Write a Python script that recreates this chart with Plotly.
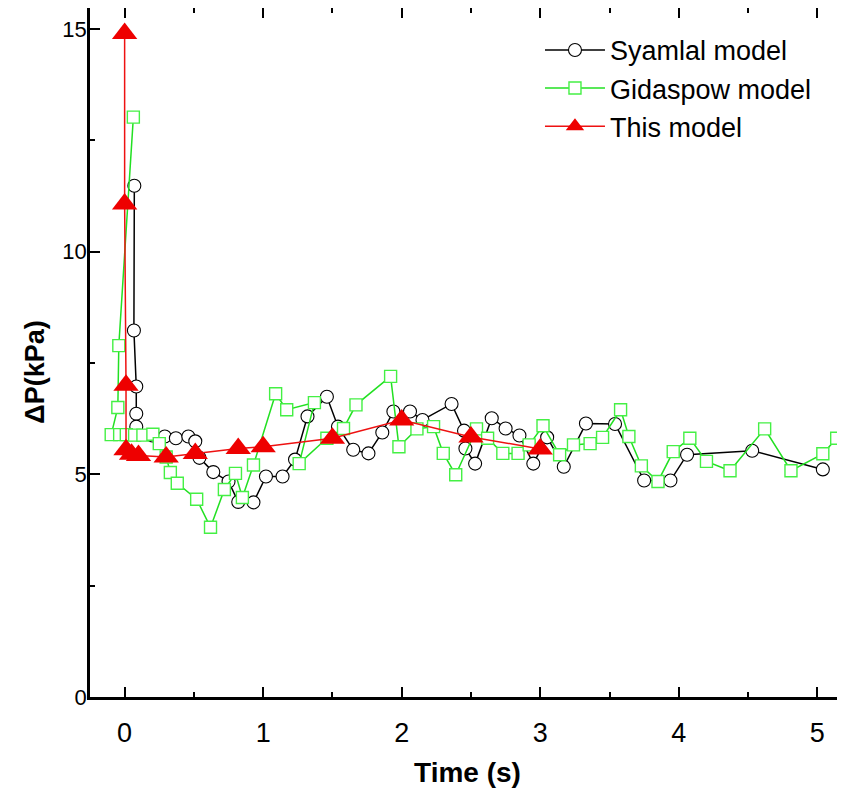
import plotly.graph_objects as go

# Syamlal model (black, open circles)
syamlal_t = [0.07, 0.067, 0.084, 0.084, 0.084, 0.2, 0.29, 0.37, 0.46, 0.51, 0.54, 0.64, 0.75,
             0.82, 0.93, 1.02, 1.14, 1.23, 1.32, 1.46, 1.54, 1.65, 1.76, 1.86, 1.94, 2.06,
             2.15, 2.36, 2.45, 2.46, 2.53, 2.65, 2.75, 2.85, 2.95, 3.05, 3.17, 3.33, 3.54,
             3.75, 3.94, 4.06, 4.53, 5.04]
syamlal_dp = [11.48, 8.23, 6.97, 6.36, 6.07, 5.87, 5.85, 5.81, 5.85, 5.74, 5.37, 5.05, 4.84,
              4.38, 4.37, 4.95, 4.95, 5.33, 6.30, 6.74, 6.07, 5.55, 5.47, 5.94, 6.41, 6.41,
              6.22, 6.58, 5.98, 5.58, 5.24, 6.26, 6.03, 5.87, 5.24, 5.83, 5.17, 6.14, 6.13,
              4.86, 4.86, 5.44, 5.53, 5.11]

# Gidaspow model (green, open squares)
gidaspow_t = [0.063, -0.042, -0.049, -0.097, -0.036, 0.012, 0.072, 0.132, 0.204, 0.25, 0.30,
              0.33, 0.38, 0.52, 0.62, 0.72, 0.80, 0.85, 0.93, 1.09, 1.17, 1.37, 1.26, 1.46,
              1.58, 1.67, 1.92, 1.98, 2.11, 2.23, 2.30, 2.39, 2.54, 2.62, 2.73, 2.84, 2.92,
              3.02, 3.14, 3.24, 3.36, 3.45, 3.58, 3.64, 3.73, 3.85, 3.96, 4.08, 4.20, 4.37,
              4.62, 4.81, 5.04, 5.14]
gidaspow_dp = [13.02, 7.89, 6.50, 5.89, 5.89, 5.89, 5.88, 5.88, 5.90, 5.69, 5.39,
               5.04, 4.80, 4.44, 3.81, 4.66, 5.02, 4.48, 5.21, 6.81, 6.45, 6.61, 5.24, 5.81,
               6.03, 6.56, 7.20, 5.62, 6.02, 6.07, 5.47, 4.99, 6.02, 5.81, 5.47, 5.47, 5.66,
               6.09, 5.44, 5.66, 5.69, 5.83, 6.45, 5.85, 5.19, 4.84, 5.51, 5.81, 5.29, 5.08,
               6.02, 5.08, 5.46, 5.81]

# This model (red, filled triangles)
this_t = [0.0, 0.0, 0.01, 0.01, 0.05, 0.1, 0.3, 0.51, 0.82, 1.0, 1.5, 2.0, 2.5, 3.0]
this_dp = [14.90, 11.07, 7.00, 5.55, 5.45, 5.42, 5.39, 5.47, 5.58, 5.62, 5.81, 6.22, 5.84, 5.57]

fig = go.Figure()

fig.add_trace(go.Scatter(
    x=syamlal_t, y=syamlal_dp, mode='lines+markers', name='Syamlal model',
    line=dict(color='black', width=1.5),
    marker=dict(symbol='circle', size=13, color='white', line=dict(color='black', width=1.1)),
    cliponaxis=False,
))
fig.add_trace(go.Scatter(
    x=gidaspow_t, y=gidaspow_dp, mode='lines+markers', name='Gidaspow model',
    line=dict(color='#22e022', width=1.5),
    marker=dict(symbol='square', size=12, color='white', line=dict(color='#44f044', width=1.4)),
    cliponaxis=False,
))
fig.add_trace(go.Scatter(
    x=this_t, y=this_dp, mode='lines+markers', name='This model',
    line=dict(color='#ee1111', width=1.5),
    marker=dict(symbol='triangle-up', size=22, color='#ee0000', line=dict(width=0)),
    cliponaxis=False,
))

# page body has an 8px margin, so the figure is a bit smaller than the window
fig.update_xaxes(
    range=[-0.25, 5.2],
    tickvals=[0, 1, 2, 3, 4, 5],
    showgrid=False, zeroline=False, automargin=False,
    showline=True, linewidth=2.5, linecolor='black', mirror='ticks',
    ticks='inside', ticklen=10, tickwidth=2, tickcolor='black',
    minor=dict(dtick=0.5, ticks='inside', ticklen=5, tickwidth=2, tickcolor='black'),
    ticklabelstandoff=10,
    tickfont=dict(family='Liberation Sans Narrow, Liberation Sans', size=27, color='black'),
    title=dict(text='<b>Time (s)</b>', standoff=16,
               font=dict(family='Liberation Sans Narrow, Liberation Sans', size=28, color='black')),
)
fig.update_yaxes(
    range=[0, 15.47],
    tickvals=[0, 5, 10, 15],
    showgrid=False, zeroline=False, automargin=False,
    showline=True, linewidth=2.5, linecolor='black',
    ticks='inside', ticklen=10, tickwidth=2, tickcolor='black',
    minor=dict(dtick=2.5, ticks='inside', ticklen=5, tickwidth=2, tickcolor='black'),
    ticklabelstandoff=-4,
    tickfont=dict(family='Liberation Sans', size=22, color='black'),
)

# y-axis title sits a little below the middle of the axis in the original
fig.add_annotation(
    text='<b>ΔP(kPa)</b>', textangle=-90,
    xref='paper', x=-0.073, xanchor='center',
    yref='y', y=7.3, yanchor='middle',
    showarrow=False,
    font=dict(family='Liberation Sans', size=27, color='black'),
)

fig.update_layout(
    width=837, height=783,
    margin=dict(l=82, r=0, t=0, b=94),
    plot_bgcolor='white', paper_bgcolor='white',
    font=dict(family='Liberation Sans', color='black'),
    showlegend=True,
    legend=dict(
        x=0.596, y=0.974, xanchor='left', yanchor='top',
        bgcolor='rgba(0,0,0,0)',
        font=dict(family='Liberation Sans', size=27, color='black'),
        itemwidth=60,
    ),
)

fig.write_html('out.html')
